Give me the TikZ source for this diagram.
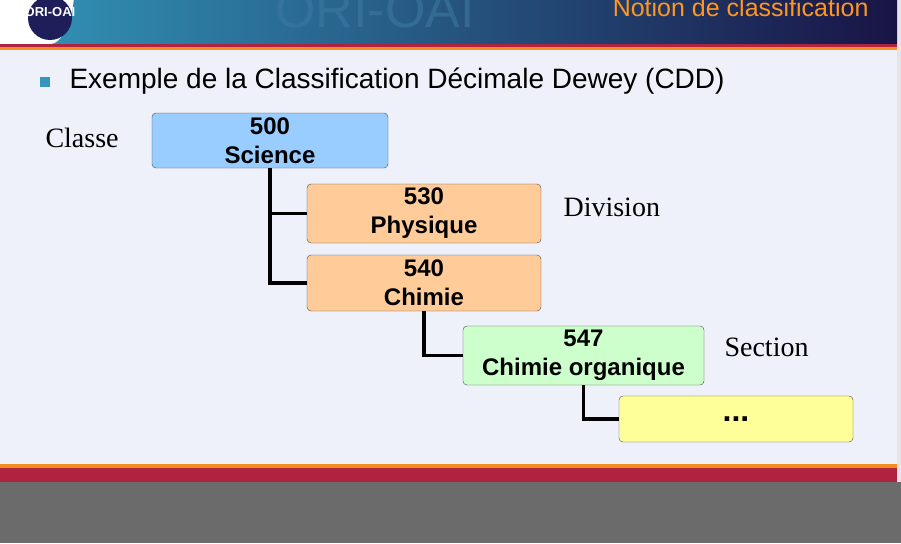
\documentclass[tikz,border=0pt]{standalone}
\usepackage{fontspec}
\setmainfont{Liberation Serif}
\setsansfont{Liberation Sans}
\definecolor{bgc}{RGB}{238,240,250}
\definecolor{hl}{RGB}{50,150,185}
\definecolor{hr}{RGB}{25,20,70}
\definecolor{navy}{RGB}{30,30,90}
\definecolor{wmc}{RGB}{60,120,160}
\definecolor{orng}{RGB}{245,140,30}
\definecolor{ttl}{RGB}{255,150,30}
\definecolor{redb}{RGB}{175,35,65}
\definecolor{bul}{RGB}{50,150,190}
\definecolor{cblue}{RGB}{153,204,255}
\definecolor{cpeach}{RGB}{255,204,153}
\definecolor{cgreen}{RGB}{204,255,204}
\definecolor{cyel}{RGB}{255,255,153}
\definecolor{grayb}{RGB}{107,107,107}
\begin{document}
\begin{tikzpicture}[x=1pt,y=-1pt,
  box/.style={draw=black!70,rounded corners=4pt,font=\sffamily\bfseries\fontsize{24}{29}\selectfont,align=center,inner sep=0pt},
  link/.style={line width=3.2pt},
  lab/.style={font=\fontsize{28}{30}\selectfont,anchor=west}]
\useasboundingbox (0,0) rectangle (901,543);
\fill[grayb] (0,0) rectangle (901,543);
\fill[white!90!black] (897,0) rectangle (901,482);
\fill[bgc] (0,50) rectangle (897,464);
\shade[left color=hl,right color=hr] (0,0) rectangle (897,44);
\fill[white] (0,0) rectangle (50,44);
\fill[white] (50,-20) ellipse (25 and 64);
\fill[navy] (50,18) circle (22);
\node[font=\sffamily\bfseries\fontsize{13}{13}\selectfont,white] (logo) at (50,12) {ORI-OAI};
\node[font=\sffamily\fontsize{52}{52}\selectfont,color=wmc,opacity=0.6] (wm) at (375,10) {ORI-OAI};
\node[font=\sffamily\fontsize{25}{25}\selectfont,color=ttl,anchor=east] (title) at (872,8) {Notion de classification};
\fill[redb] (0,44) rectangle (897,47);
\fill[orng] (0,47) rectangle (897,50);
\fill[orng] (0,464) rectangle (897,468);
\fill[redb] (0,468) rectangle (897,482);
\fill[bul] (40,77) rectangle (50,87);
\node[font=\sffamily\fontsize{28}{30}\selectfont,anchor=west] (head) at (66,81) {Exemple de la Classification Décimale Dewey (CDD)};
\node[box,fill=cblue,minimum width=236pt,minimum height=55pt] (a) at (270,140.5) {500\\Science};
\node[box,fill=cpeach,minimum width=234pt,minimum height=59pt] (b) at (424,213.5) {530\\Physique};
\node[box,fill=cpeach,minimum width=234pt,minimum height=56pt] (c) at (424,283) {540\\Chimie};
\node[box,fill=cgreen,minimum width=241pt,minimum height=59pt] (d) at (583.5,355.5) {547\\Chimie organique};
\node[box,fill=cyel,minimum width=234pt,minimum height=46pt,font=\sffamily\bfseries\fontsize{32}{32}\selectfont] (e) at (736,419) {...};
\draw[link] (a.south) -- (a.south |- c.west) -- (c.west);
\draw[link] (a.south |- b.west) -- (b.west);
\draw[link] (c.south) -- (c.south |- d.west) -- (d.west);
\draw[link] (d.south) -- (d.south |- e.west) -- (e.west);
\node[lab] (l1) at (42,138) {Classe};
\node[lab] (l2) at (560,207) {Division};
\node[lab] (l3) at (721,347) {Section};
\end{tikzpicture}
\end{document}
